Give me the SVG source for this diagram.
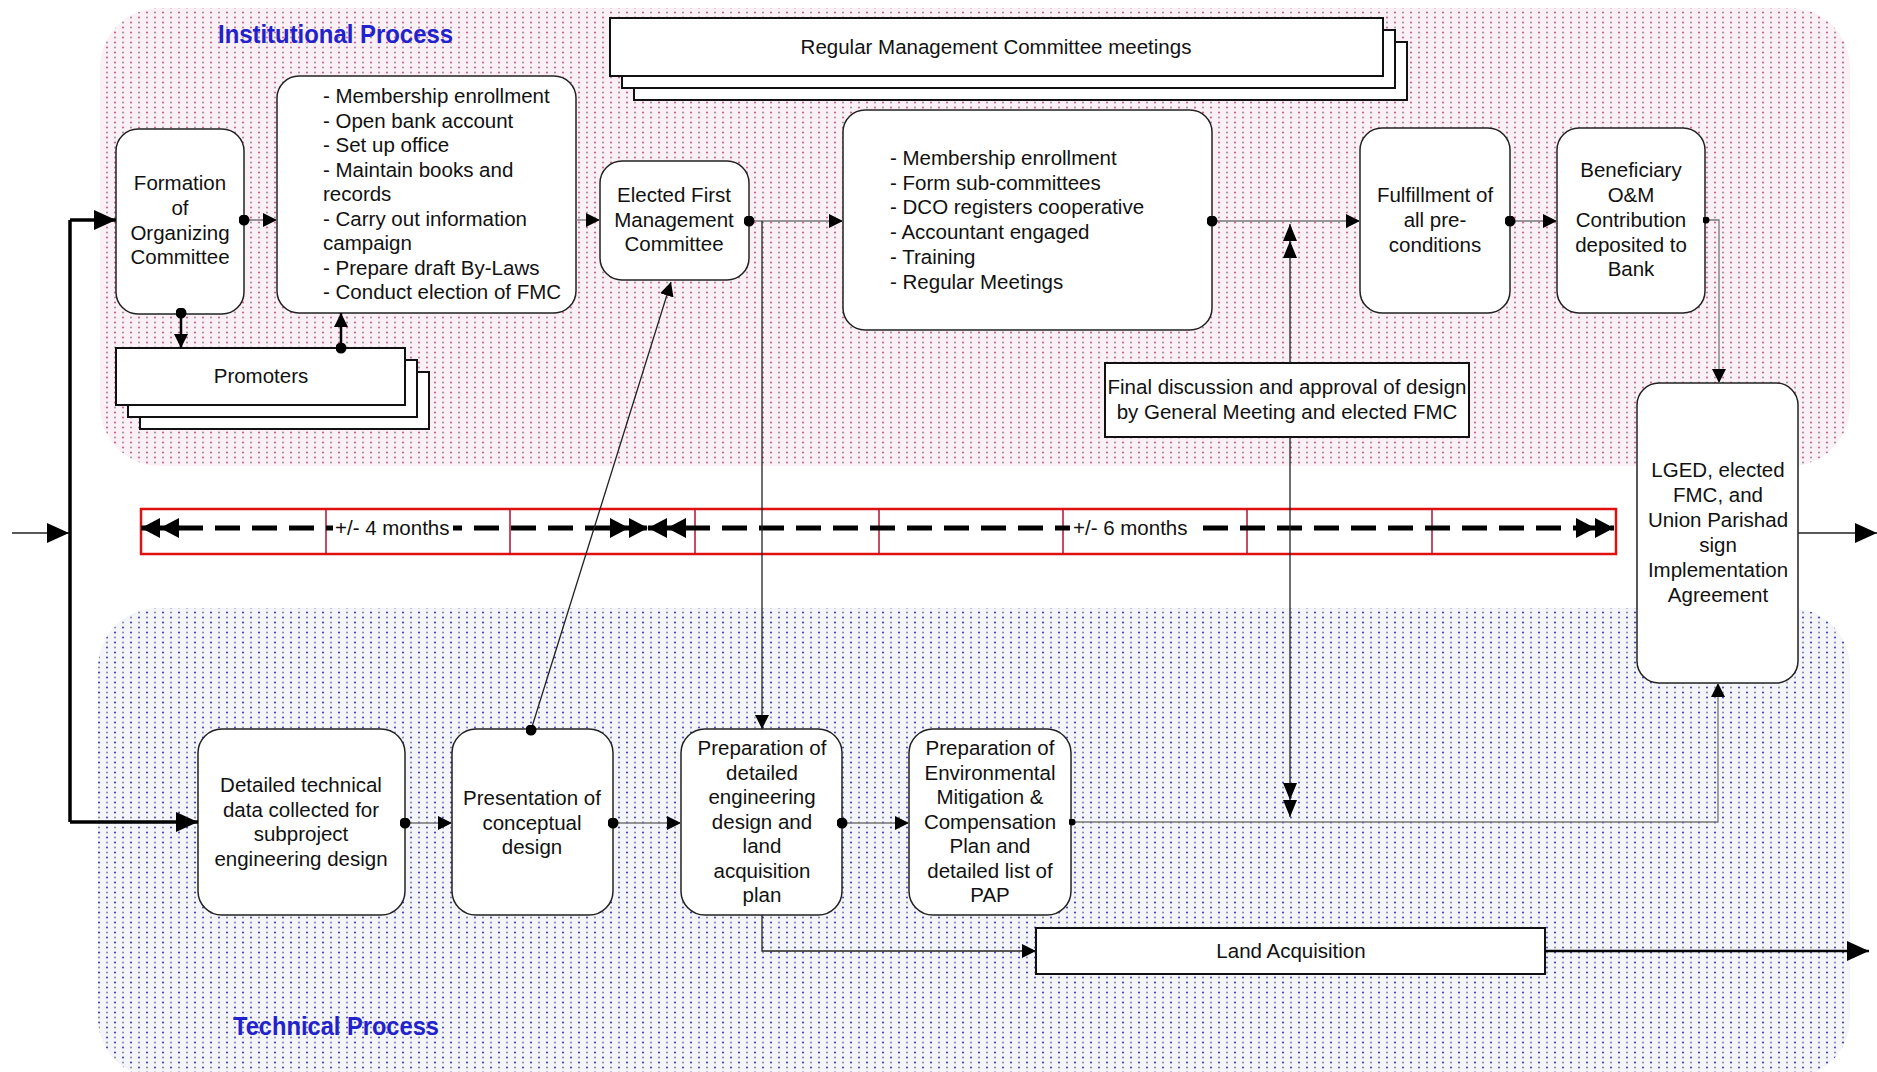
<svg xmlns="http://www.w3.org/2000/svg" width="1877" height="1072" viewBox="0 0 1877 1072">
  <defs>
    <pattern id="pinkDots" x="0" y="0" width="16" height="10" patternUnits="userSpaceOnUse">
      <rect width="16" height="10" fill="#fbf0f5"/>
      <circle cx="3" cy="2.5" r="1.1" fill="#d0608f"/>
      <circle cx="11" cy="2.5" r="1" fill="#9a8896"/>
      <circle cx="3" cy="7.5" r="1" fill="#a08a98"/>
      <circle cx="11" cy="7.5" r="1.1" fill="#cc6597"/>
    </pattern>
    <pattern id="blueDots" x="0" y="0" width="16" height="10" patternUnits="userSpaceOnUse">
      <rect width="16" height="10" fill="#f4f4fb"/>
      <circle cx="3" cy="2.5" r="1.1" fill="#4444b0"/>
      <circle cx="11" cy="2.5" r="1" fill="#8686a0"/>
      <circle cx="3" cy="7.5" r="1" fill="#84849e"/>
      <circle cx="11" cy="7.5" r="1.1" fill="#4a4ab6"/>
    </pattern>
    <marker id="ah" viewBox="0 0 14 14" refX="14" refY="7" markerWidth="14" markerHeight="14" markerUnits="userSpaceOnUse" orient="auto">
      <path d="M0,0 L14,7 L0,14z" fill="#000"/>
    </marker>
    <marker id="ahL" viewBox="0 0 22 20" refX="22" refY="10" markerWidth="22" markerHeight="20" markerUnits="userSpaceOnUse" orient="auto">
      <path d="M0,0 L22,10 L0,20z" fill="#000"/>
    </marker>
    <marker id="dot" viewBox="0 0 11 11" refX="5.5" refY="5.5" markerWidth="11" markerHeight="11" markerUnits="userSpaceOnUse">
      <circle cx="5.5" cy="5.5" r="5.5" fill="#000"/>
    </marker>
    <marker id="dotS" viewBox="0 0 7 7" refX="3.5" refY="3.5" markerWidth="7" markerHeight="7" markerUnits="userSpaceOnUse">
      <circle cx="3.5" cy="3.5" r="3.5" fill="#000"/>
    </marker>
    <marker id="dbl" viewBox="0 0 38 20" refX="38" refY="10" markerWidth="38" markerHeight="20" markerUnits="userSpaceOnUse" orient="auto-start-reverse">
      <path d="M0,0 L19,10 L0,20z M19,0 L38,10 L19,20z" fill="#000"/>
    </marker>
    <marker id="dblS" viewBox="0 0 34 14" refX="34" refY="7" markerWidth="34" markerHeight="14" markerUnits="userSpaceOnUse" orient="auto">
      <path d="M0,0 L17,7 L0,14z M17,0 L34,7 L17,14z" fill="#000"/>
    </marker>
  </defs>
  <style>
    .box { fill: #fff; stroke: #222; stroke-width: 1.5; }
    .sq { fill: #fff; stroke: #111; stroke-width: 2; }
    .t { font-family: "Liberation Sans", Arial, sans-serif; font-size: 20.5px; fill: #111; }
    .c { text-anchor: middle; }
    .title { font-family: "Liberation Sans", Arial, sans-serif; font-weight: bold; font-size: 26px; fill: #2222cc; }
    .thin { fill: none; stroke: #222; stroke-width: 1.3; }
    .gray { fill: none; stroke: #777; stroke-width: 1.3; }
    .thick { fill: none; stroke: #000; stroke-width: 3.5; }
    .mid { fill: none; stroke: #000; stroke-width: 2.5; }
    .red { fill: none; stroke: #e01010; stroke-width: 2.5; }
    .div { stroke: #b01030; stroke-width: 1.5; }
    .dash { fill: none; stroke: #000; stroke-width: 5; stroke-dasharray: 25 12; }
  </style>

  <!-- swimlane backgrounds -->
  <g id="lanes">
    <rect x="100" y="8" width="1750" height="458" rx="60" fill="url(#pinkDots)"/>
    <rect x="98" y="608" width="1752" height="470" rx="60" fill="url(#blueDots)"/>
    <text class="title" x="218" y="43" textLength="235" lengthAdjust="spacingAndGlyphs">Institutional Process</text>
    <text class="title" x="233" y="1035" textLength="206" lengthAdjust="spacingAndGlyphs">Technical Process</text>
  </g>

  <!-- timeline bar -->
  <g id="timeline">
    <rect class="red" x="141" y="509" width="1475" height="45" fill="#fff"/>
    <g class="div">
      <line x1="326" y1="509" x2="326" y2="554"/>
      <line x1="510" y1="509" x2="510" y2="554"/>
      <line x1="695" y1="509" x2="695" y2="554"/>
      <line x1="879" y1="509" x2="879" y2="554"/>
      <line x1="1063" y1="509" x2="1063" y2="554"/>
      <line x1="1247" y1="509" x2="1247" y2="554"/>
      <line x1="1432" y1="509" x2="1432" y2="554"/>
    </g>
    <path class="dash" d="M141,528 H648" marker-start="url(#dbl)" marker-end="url(#dbl)"/>
    <path class="dash" d="M648,528 H1614" marker-start="url(#dbl)" marker-end="url(#dbl)"/>
    <rect x="333" y="516" width="120" height="24" fill="#fff"/>
    <rect x="1070" y="516" width="121" height="24" fill="#fff"/>
    <text class="t" x="335" y="535">+/- 4 months</text>
    <text class="t" x="1073" y="535">+/- 6 months</text>
  </g>

  <!-- institutional process nodes -->
  <g id="formation">
    <rect class="box" x="116" y="129" width="128" height="185" rx="22"/>
    <text class="t c" x="180" y="190">Formation</text>
    <text class="t c" x="180" y="215">of</text>
    <text class="t c" x="180" y="240">Organizing</text>
    <text class="t c" x="180" y="264">Committee</text>
  </g>

  <g id="promoters">
    <rect class="sq" x="140" y="372" width="289" height="57"/>
    <rect class="sq" x="128" y="360" width="289" height="57"/>
    <rect class="sq" x="116" y="348" width="289" height="57"/>
    <text class="t c" x="261" y="383">Promoters</text>
  </g>

  <g id="organizing-tasks">
    <rect class="box" x="277" y="76" width="299" height="237" rx="22"/>
    <text class="t" x="323" y="103">- Membership enrollment</text>
    <text class="t" x="323" y="127.5">- Open bank account</text>
    <text class="t" x="323" y="152">- Set up office</text>
    <text class="t" x="323" y="176.5">- Maintain books and</text>
    <text class="t" x="323" y="201">records</text>
    <text class="t" x="323" y="225.5">- Carry out information</text>
    <text class="t" x="323" y="250">campaign</text>
    <text class="t" x="323" y="274.5">- Prepare draft By-Laws</text>
    <text class="t" x="323" y="299">- Conduct election of FMC</text>
  </g>

  <g id="elected-fmc">
    <rect class="box" x="600" y="161" width="149" height="119" rx="22"/>
    <text class="t c" x="674" y="202">Elected First</text>
    <text class="t c" x="674" y="227">Management</text>
    <text class="t c" x="674" y="251">Committee</text>
  </g>

  <g id="regular-meetings">
    <rect class="sq" x="634" y="42" width="773" height="58"/>
    <rect class="sq" x="622" y="30" width="773" height="58"/>
    <rect class="sq" x="610" y="18" width="773" height="58"/>
    <text class="t c" x="996" y="54">Regular Management Committee meetings</text>
  </g>

  <g id="fmc-tasks">
    <rect class="box" x="843" y="110" width="369" height="220" rx="22"/>
    <text class="t" x="890" y="165">- Membership enrollment</text>
    <text class="t" x="890" y="190">- Form sub-committees</text>
    <text class="t" x="890" y="214">- DCO registers cooperative</text>
    <text class="t" x="890" y="239">- Accountant engaged</text>
    <text class="t" x="890" y="264">- Training</text>
    <text class="t" x="890" y="289">- Regular Meetings</text>
  </g>

  <g id="design-approval">
    <rect class="sq" x="1105" y="363" width="364" height="74"/>
    <text class="t c" x="1287" y="394">Final discussion and approval of design</text>
    <text class="t c" x="1287" y="419">by General Meeting and elected FMC</text>
  </g>

  <g id="preconditions">
    <rect class="box" x="1360" y="128" width="150" height="185" rx="22"/>
    <text class="t c" x="1435" y="202">Fulfillment of</text>
    <text class="t c" x="1435" y="227">all pre-</text>
    <text class="t c" x="1435" y="252">conditions</text>
  </g>

  <g id="om-contribution">
    <rect class="box" x="1557" y="128" width="148" height="185" rx="22"/>
    <text class="t c" x="1631" y="177">Beneficiary</text>
    <text class="t c" x="1631" y="202">O&amp;M</text>
    <text class="t c" x="1631" y="227">Contribution</text>
    <text class="t c" x="1631" y="252">deposited to</text>
    <text class="t c" x="1631" y="276">Bank</text>
  </g>

  <g id="implementation-agreement">
    <rect class="box" x="1637" y="383" width="161" height="300" rx="22"/>
    <text class="t c" x="1718" y="477">LGED, elected</text>
    <text class="t c" x="1718" y="502">FMC, and</text>
    <text class="t c" x="1718" y="527">Union Parishad</text>
    <text class="t c" x="1718" y="552">sign</text>
    <text class="t c" x="1718" y="577">Implementation</text>
    <text class="t c" x="1718" y="602">Agreement</text>
  </g>

  <!-- technical process nodes -->
  <g id="technical-data">
    <rect class="box" x="198" y="729" width="207" height="186" rx="24"/>
    <text class="t c" x="301" y="792">Detailed technical</text>
    <text class="t c" x="301" y="816.5">data collected for</text>
    <text class="t c" x="301" y="841">subproject</text>
    <text class="t c" x="301" y="865.5">engineering design</text>
  </g>

  <g id="conceptual-design">
    <rect class="box" x="452" y="729" width="161" height="186" rx="24"/>
    <text class="t c" x="532" y="805">Presentation of</text>
    <text class="t c" x="532" y="829.5">conceptual</text>
    <text class="t c" x="532" y="854">design</text>
  </g>

  <g id="detailed-design">
    <rect class="box" x="681" y="729" width="161" height="186" rx="24"/>
    <text class="t c" x="762" y="755">Preparation of</text>
    <text class="t c" x="762" y="779.5">detailed</text>
    <text class="t c" x="762" y="804">engineering</text>
    <text class="t c" x="762" y="828.5">design and</text>
    <text class="t c" x="762" y="853">land</text>
    <text class="t c" x="762" y="877.5">acquisition</text>
    <text class="t c" x="762" y="902">plan</text>
  </g>

  <g id="environmental-plan">
    <rect class="box" x="909" y="729" width="162" height="186" rx="24"/>
    <text class="t c" x="990" y="755">Preparation of</text>
    <text class="t c" x="990" y="779.5">Environmental</text>
    <text class="t c" x="990" y="804">Mitigation &amp;</text>
    <text class="t c" x="990" y="828.5">Compensation</text>
    <text class="t c" x="990" y="853">Plan and</text>
    <text class="t c" x="990" y="877.5">detailed list of</text>
    <text class="t c" x="990" y="902">PAP</text>
  </g>

  <g id="land-acquisition">
    <rect class="sq" x="1036" y="928" width="509" height="46"/>
    <text class="t c" x="1291" y="958">Land Acquisition</text>
  </g>

  <!-- connectors, drawn last so the dots sit on top of the box edges -->
  <g id="connectors">
    <path class="thin" d="M12,533 H69" marker-end="url(#ahL)"/>
    <path class="thick" d="M70,220 V822"/>
    <path class="thick" d="M70,220 H116" marker-end="url(#ahL)"/>
    <path class="thick" d="M70,822 H198" marker-end="url(#ahL)"/>
    <path class="mid" d="M181,313 V348" marker-start="url(#dot)" marker-end="url(#ah)"/>
    <path class="mid" d="M341,348 V313" marker-start="url(#dot)" marker-end="url(#ah)"/>
    <path class="gray" d="M244,220 H277" marker-start="url(#dot)" marker-end="url(#ah)"/>
    <path class="gray" d="M576,220 H600" marker-end="url(#ah)"/>
    <path class="gray" d="M749,221 H843" marker-start="url(#dot)" marker-end="url(#ah)"/>
    <path class="thin" d="M762,221 V729" marker-end="url(#ah)"/>
    <path class="thin" d="M531,730 L671,282" marker-start="url(#dot)" marker-end="url(#ah)"/>
    <path class="gray" d="M1212,221 H1360" marker-start="url(#dot)" marker-end="url(#ah)"/>
    <path class="gray" d="M1510,221 H1557" marker-start="url(#dot)" marker-end="url(#ah)"/>
    <path class="gray" d="M1706,220 H1719 V383" marker-start="url(#dotS)" marker-end="url(#ah)"/>
    <path class="thin" d="M1798,533 H1877" marker-end="url(#ahL)"/>
    <path class="thin" d="M1290,363 V224" marker-end="url(#dblS)"/>
    <path class="thin" d="M1290,437 V817" marker-end="url(#dblS)"/>
    <path class="gray" d="M405,823 H452" marker-start="url(#dot)" marker-end="url(#ah)"/>
    <path class="gray" d="M613,823 H681" marker-start="url(#dot)" marker-end="url(#ah)"/>
    <path class="gray" d="M842,823 H909" marker-start="url(#dot)" marker-end="url(#ah)"/>
    <path class="gray" d="M1072,822 H1718 V683" marker-start="url(#dotS)" marker-end="url(#ah)"/>
    <path class="thin" d="M762,915 V951 H1036" marker-end="url(#ah)"/>
    <path class="mid" d="M1545,951 H1869" marker-end="url(#ahL)"/>
  </g>
</svg>
